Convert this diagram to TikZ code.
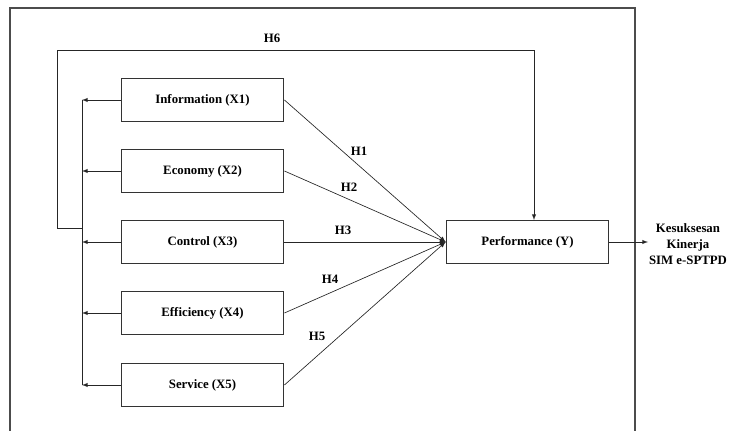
\documentclass[tikz,border=0pt]{standalone}
\usepackage{fontspec}
\setmainfont{Liberation Serif}
\usepackage{tikz}
\usetikzlibrary{arrows}

\begin{document}
\begin{tikzpicture}[x=0.75pt,y=0.75pt,yscale=-1,xscale=1,
  font=\fontsize{9.6}{12}\selectfont\bfseries,
  varbox/.style={draw=black!80,line width=0.9pt,minimum width=122pt,minimum height=32pt,inner sep=0pt},
  link/.style={draw=black!85,line width=0.5pt},
  hlabel/.style={inner sep=0.75pt}]
%set diagram to 729 x 431
\useasboundingbox (0,0) rectangle (729,431);

%Shape: Frame (open at the bottom)
\draw[black!70,line width=1.1pt] (10,431) -- (10,8) -- (635,8) -- (635,431);

%Variable boxes
\node[varbox] (info) at (202.5,100) {Information (X1)};
\node[varbox] (econ) at (202.5,171) {Economy (X2)};
\node[varbox] (ctrl) at (202.5,242) {Control (X3)};
\node[varbox] (effi) at (202.5,313) {Efficiency (X4)};
\node[varbox] (serv) at (202.5,385) {Service (X5)};
\node[varbox] (perf) at (527.5,242) {Performance (Y)};

% Text Node
\node[align=center,inner sep=0.75pt] (succ) at (688,244) {Kesuksesan\\Kinerja\\SIM e-SPTPD};

%Coordinates for the feedback line
\coordinate (busTop) at (82,100);
\coordinate (busBot) at (82,385);
\coordinate (busJoin) at (82,228);
\coordinate (loopLow) at (57,228);
\coordinate (loopHigh) at (57,50);
\coordinate (loopEnd) at (534,50);
\coordinate (outEnd) at (648,242);

%Straight Lines: boxes to the bus
\draw[link] (busTop) -- (busBot);
\foreach \v in {info,econ,ctrl,effi,serv}
  \draw[link,-latex] (\v.west) -- (\v.west -| busTop);

%H6
\draw[link,-latex] (busJoin) -- (loopLow) -- (loopHigh) -- (loopEnd) -- (loopEnd |- perf.north);

%H1 .. H5
\foreach \v in {info,econ,ctrl,effi,serv}
  \draw[link,-latex] (\v.east) -- (perf.west);

%Output
\draw[link,-latex] (perf.east) -- (outEnd);

% Text Node
\node[hlabel] (h6) at (272,38) {H6};
\node[hlabel] (h1) at (359,151) {H1};
\node[hlabel] (h2) at (349,187) {H2};
\node[hlabel] (h3) at (343,230) {H3};
\node[hlabel] (h4) at (330,279) {H4};
\node[hlabel] (h5) at (317,336) {H5};

\end{tikzpicture}
\end{document}
